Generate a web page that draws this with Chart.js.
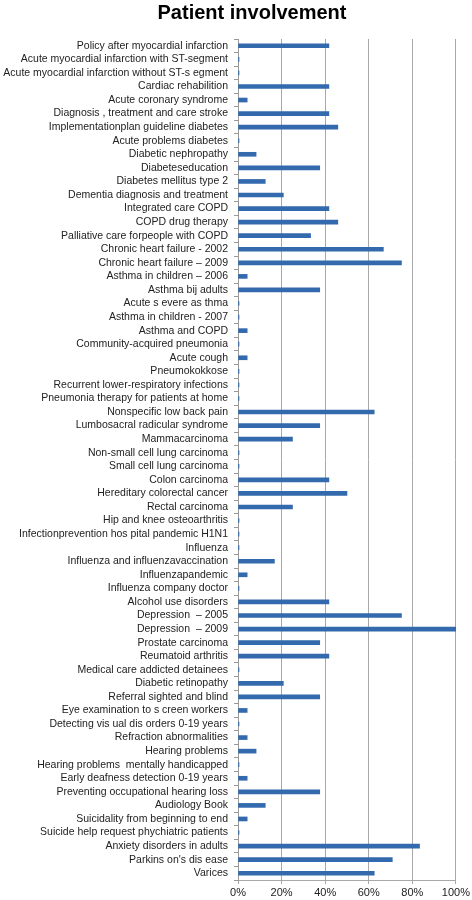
<!DOCTYPE html>
<html>
<head>
<meta charset="utf-8">
<script src="https://cdn.jsdelivr.net/npm/chart.js@4"></script>
<style>
  body { margin: 0; background: #fff; }
</style>
</head>
<body>
<canvas id="myChart" width="472" height="900"></canvas>
<script>
const guidelines = [
    'Policy after myocardial infarction',
    'Acute myocardial infarction with ST-segment',
    'Acute myocardial infarction without ST-s egment',
    'Cardiac rehabilition',
    'Acute coronary syndrome',
    'Diagnosis , treatment and care stroke',
    'Implementationplan guideline diabetes',
    'Acute problems diabetes',
    'Diabetic nephropathy',
    'Diabeteseducation',
    'Diabetes mellitus type 2',
    'Dementia diagnosis and treatment',
    'Integrated care COPD',
    'COPD drug therapy',
    'Palliative care forpeople with COPD',
    'Chronic heart failure - 2002',
    'Chronic heart failure \u2013 2009',
    'Asthma in children \u2013 2006',
    'Asthma bij adults',
    'Acute s evere as thma',
    'Asthma in children - 2007',
    'Asthma and COPD',
    'Community-acquired pneumonia',
    'Acute cough',
    'Pneumokokkose',
    'Recurrent lower-respiratory infections',
    'Pneumonia therapy for patients at home',
    'Nonspecific low back pain',
    'Lumbosacral radicular syndrome',
    'Mammacarcinoma',
    'Non-small cell lung carcinoma',
    'Small cell lung carcinoma',
    'Colon carcinoma',
    'Hereditary colorectal cancer',
    'Rectal carcinoma',
    'Hip and knee osteoarthritis',
    'Infectionprevention hos pital pandemic H1N1',
    'Influenza',
    'Influenza and influenzavaccination',
    'Influenzapandemic',
    'Influenza company doctor',
    'Alcohol use disorders',
    'Depression  \u2013 2005',
    'Depression  \u2013 2009',
    'Prostate carcinoma',
    'Reumatoid arthritis',
    'Medical care addicted detainees',
    'Diabetic retinopathy',
    'Referral sighted and blind',
    'Eye examination to s creen workers',
    'Detecting vis ual dis orders 0-19 years',
    'Refraction abnormalities',
    'Hearing problems',
    'Hearing problems  mentally handicapped',
    'Early deafness detection 0-19 years',
    'Preventing occupational hearing loss',
    'Audiology Book',
    'Suicidality from beginning to end',
    'Suicide help request phychiatric patients',
    'Anxiety disorders in adults',
    "Parkins on's dis ease",
    'Varices'
];

// share of patient involvement, in percent
const involvement = [
    41.7, 0, 0, 41.7, 4.2, 41.7, 45.8, 0, 8.3, 37.5,
    12.5, 20.8, 41.7, 45.8, 33.3, 66.7, 75, 4.2, 37.5, 0,
    0, 4.2, 0, 4.2, 0, 0, 0, 62.5, 37.5, 25,
    0, 0, 41.7, 50, 25, 0, 0, 0, 16.7, 4.2,
    0, 41.7, 75, 100, 37.5, 41.7, 0, 20.8, 37.5, 4.2,
    0, 4.2, 8.3, 0, 4.2, 37.5, 12.5, 4.2, 0, 83.3,
    70.8, 62.5
];

const xTicks = [0, 20, 40, 60, 80, 100];
const chartTitle = 'Patient involvement';

// title sits a bit right of the canvas centre, so draw it ourselves
const titlePlugin = {
    id: 'offsetTitle',
    afterDraw(chart) {
        const c = chart.ctx;
        c.save();
        c.font = 'bold 20px "Liberation Sans"';
        c.fillStyle = '#000';
        c.textAlign = 'center';
        c.textBaseline = 'alphabetic';
        c.fillText(chartTitle, 252, 19);
        c.restore();
    }
};

const ctx = document.getElementById('myChart').getContext('2d');
const myChart = new Chart(ctx, {
    type: 'bar',
    data: {
        labels: guidelines,
        datasets: [{
            label: chartTitle,
            data: involvement,
            backgroundColor: '#3369ad',
            borderColor: '#24568f',
            borderWidth: 0,
            barThickness: 4,
            minBarLength: 1
        }]
    },
    plugins: [titlePlugin],
    options: {
        indexAxis: 'y',
        responsive: false,
        animation: false,
        layout: {
            padding: { left: 0, right: 15, top: 39, bottom: 0 }
        },
        plugins: {
            legend: { display: false },
            tooltip: { enabled: false },
            title: { display: false }
        },
        scales: {
            x: {
                min: 0,
                max: 100,
                afterBuildTicks: axis => {
                    axis.ticks = xTicks.map(v => ({ value: v }));
                },
                afterFit: axis => { axis.height = 20; },
                ticks: {
                    callback: v => v + '%',
                    color: '#222',
                    padding: 2,
                    maxRotation: 0,
                    font: { family: 'Liberation Sans', size: 11 }
                },
                grid: {
                    color: '#a8a8a8',
                    lineWidth: 1,
                    tickLength: 4
                },
                border: { color: '#a8a8a8' }
            },
            y: {
                afterFit: axis => { axis.width = 238; },
                ticks: {
                    autoSkip: false,
                    color: '#222',
                    padding: 6,
                    font: { family: 'Liberation Sans', size: 10.5 }
                },
                grid: {
                    offset: true,
                    drawOnChartArea: false,
                    color: '#999',
                    tickLength: 4
                },
                border: { color: '#999' }
            }
        }
    }
});
</script>
</body>
</html>
